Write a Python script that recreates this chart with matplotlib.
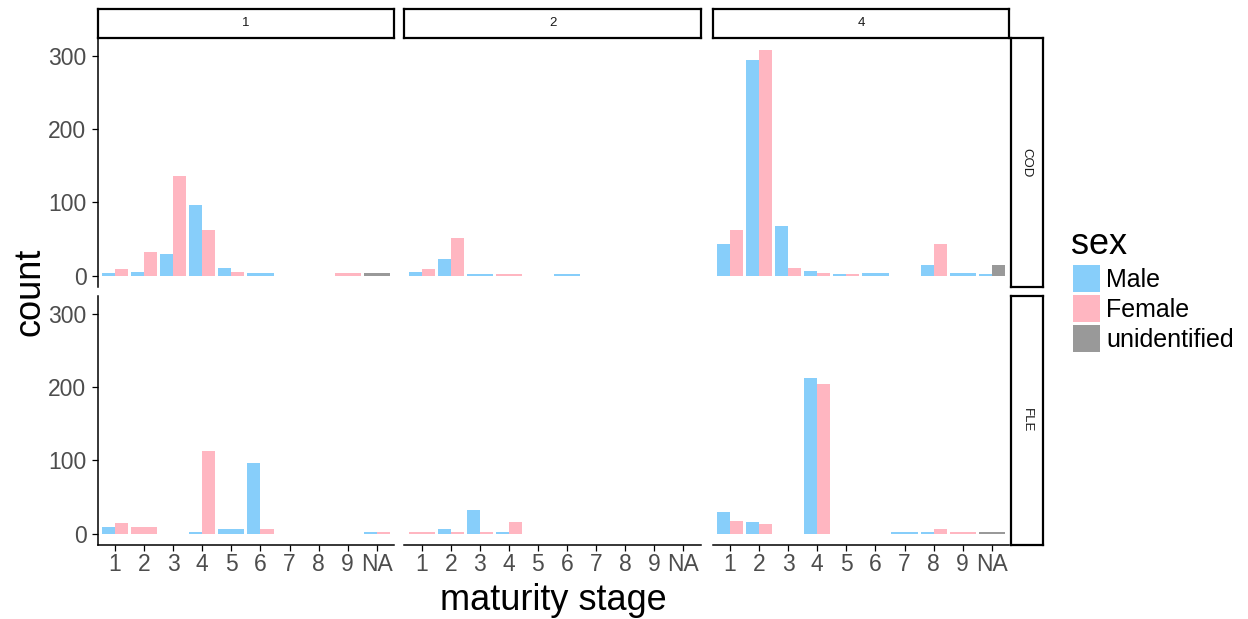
import matplotlib
matplotlib.use("Agg")
import matplotlib.pyplot as plt
from matplotlib.patches import Rectangle
import numpy as np

plt.rcParams['font.family'] = ['Liberation Sans', 'DejaVu Sans']

stages = ['1', '2', '3', '4', '5', '6', '7', '8', '9', 'NA']
stations = ['1', '2', '4']
species = ['COD', 'FLE']
sexes = ['Male', 'Female', 'unidentified']
sex_colors = ['#87CEFA', '#FFB6C1', '#999999']

# counts per stage (0 = no fish in that group)
cod_1_male = [3, 5, 30, 96, 11, 3, 0, 0, 0, 0]
cod_1_female = [9, 32, 136, 63, 5, 0, 0, 0, 3, 0]
cod_1_unid = [0, 0, 0, 0, 0, 0, 0, 0, 0, 3]
cod_2_male = [5, 23, 2, 0, 0, 2, 0, 0, 0, 0]
cod_2_female = [9, 52, 0, 2, 0, 0, 0, 0, 0, 0]
cod_2_unid = [0, 0, 0, 0, 0, 0, 0, 0, 0, 0]
cod_4_male = [43, 295, 68, 7, 2, 3, 0, 14, 3, 2]
cod_4_female = [63, 309, 11, 3, 2, 0, 0, 43, 0, 0]
cod_4_unid = [0, 0, 0, 0, 0, 0, 0, 0, 0, 14]

fle_1_male = [9, 0, 0, 2, 6, 97, 0, 0, 0, 2]
fle_1_female = [14, 9, 0, 113, 0, 6, 0, 0, 0, 2]
fle_1_unid = [0, 0, 0, 0, 0, 0, 0, 0, 0, 0]
fle_2_male = [0, 6, 32, 2, 0, 0, 0, 0, 0, 0]
fle_2_female = [2, 2, 2, 16, 0, 0, 0, 0, 0, 0]
fle_2_unid = [0, 0, 0, 0, 0, 0, 0, 0, 0, 0]
fle_4_male = [29, 16, 0, 213, 0, 0, 2, 2, 0, 0]
fle_4_female = [18, 13, 0, 205, 0, 0, 0, 6, 2, 0]
fle_4_unid = [0, 0, 0, 0, 0, 0, 0, 0, 0, 2]

panels = {
    ('COD', '1'): [cod_1_male, cod_1_female, cod_1_unid],
    ('COD', '2'): [cod_2_male, cod_2_female, cod_2_unid],
    ('COD', '4'): [cod_4_male, cod_4_female, cod_4_unid],
    ('FLE', '1'): [fle_1_male, fle_1_female, fle_1_unid],
    ('FLE', '2'): [fle_2_male, fle_2_female, fle_2_unid],
    ('FLE', '4'): [fle_4_male, fle_4_female, fle_4_unid],
}

W, H = 1248, 619
fig = plt.figure(figsize=(W / 100, H / 100), dpi=100)


def px_axes(x0, y0, x1, y1, **kw):
    return fig.add_axes([x0 / W, 1 - y1 / H, (x1 - x0) / W, (y1 - y0) / H], **kw)


col_x = [(97.6, 394.2), (404.2, 700.8), (712.6, 1009.2)]
row_y = [(38.2, 287.0), (296.2, 545.0)]
tick_color = '#4D4D4D'
tick_size = 16.5
ymax_all = 309
ylim = (-0.05 * ymax_all, 1.05 * ymax_all)
dodge_width = 0.9

for r, sp in enumerate(species):
    for c, st in enumerate(stations):
        ax = px_axes(col_x[c][0], row_y[r][0], col_x[c][1], row_y[r][1])
        series = panels[(sp, st)]
        for i in range(len(stages)):
            present = [k for k in range(len(sexes)) if series[k][i] > 0]
            n = len(present)
            if n == 0:
                continue
            w = dodge_width / n
            left = (i + 1) - dodge_width / 2
            for j, k in enumerate(present):
                ax.bar(left + j * w, series[k][i], width=w, align='edge',
                       color=sex_colors[k], edgecolor='none', linewidth=0)
        ax.set_xlim(0.4, len(stages) + 0.6)
        ax.set_ylim(*ylim)
        ax.set_xticks(np.arange(1, len(stages) + 1))
        ax.set_yticks([0, 100, 200, 300])
        for s in ['top', 'right']:
            ax.spines[s].set_visible(False)
        ax.spines['left'].set_visible(c == 0)
        ax.spines['bottom'].set_visible(r == 1)
        ax.spines['left'].set_linewidth(1.1)
        ax.spines['bottom'].set_linewidth(1.1)
        ax.tick_params(axis='y', left=(c == 0), labelleft=(c == 0),
                       length=4, width=0.9, labelsize=tick_size, labelcolor=tick_color, pad=4)
        ax.tick_params(axis='x', bottom=(r == 1), labelbottom=(r == 1),
                       length=4, width=0.9, labelsize=tick_size, labelcolor=tick_color, pad=2)
        if r == 1:
            ax.set_xticklabels(stages)
        ax.patch.set_alpha(0)

# column strips
for c, st in enumerate(stations):
    sax = px_axes(col_x[c][0], 8.5, col_x[c][1], 37.5)
    sax.set_xticks([])
    sax.set_yticks([])
    for s in sax.spines.values():
        s.set_linewidth(1.6)
        s.set_color('black')
    sax.text(0.5, 0.5, st, ha='center', va='center', fontsize=9.5,
             color='#1A1A1A', transform=sax.transAxes)

# row strips
for r, sp in enumerate(species):
    sax = px_axes(1010.5, row_y[r][0], 1042.5, row_y[r][1])
    sax.set_xticks([])
    sax.set_yticks([])
    for s in sax.spines.values():
        s.set_linewidth(1.6)
        s.set_color('black')
    sax.text(0.5, 0.5, sp, ha='center', va='center', fontsize=9.5, rotation=-90,
             color='#1A1A1A', transform=sax.transAxes)

# axis titles
fig.text(30 / W, 1 - 291.5 / H, 'count', rotation=90, ha='center', va='center', fontsize=26)
fig.text(553.4 / W, 1 - 600 / H, 'maturity stage', ha='center', va='center', fontsize=26)

# legend
fig.text(1071 / W, 1 - 245 / H, 'sex', ha='left', va='center', fontsize=26)
for k, (name, col) in enumerate(zip(sexes, sex_colors)):
    y_top = 265 + k * 30
    fig.patches.append(Rectangle((1073 / W, 1 - (y_top + 27) / H), 27 / W, 27 / H,
                                 transform=fig.transFigure, facecolor=col,
                                 edgecolor='none'))
    fig.text(1106 / W, 1 - (y_top + 15) / H, name, ha='left', va='center', fontsize=18)

fig.savefig('out.png', dpi=100)
